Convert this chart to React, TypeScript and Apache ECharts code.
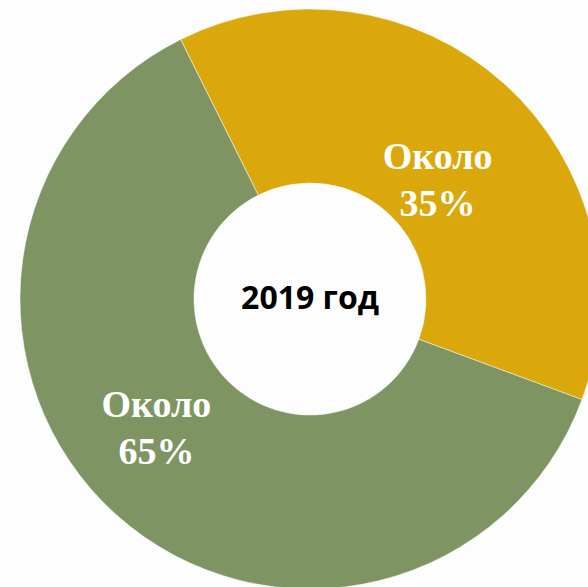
import React, { useEffect, useRef } from "react";
import * as echarts from "echarts";

const categories = ["Около\n35%", "Около\n65%"];
const values = [38, 62];
const colors = ["#DAA80B", "#7E9563"];
const labelOffsets = [
  [-10, 34],
  [-16, -25],
];
const centerTitle = "2019 год";

export default function App() {
  const ref = useRef<HTMLDivElement>(null);
  useEffect(() => {
    if (!ref.current) return;
    const chart = echarts.init(ref.current, null, { renderer: "svg" });
    chart.setOption({
      animation: false,
      backgroundColor: "#FDFDFD",
      graphic: [
        {
          type: "text",
          x: 310,
          y: 296,
          style: {
            text: centerTitle,
            fill: "#000000",
            font: "bold 32px 'Open Sans', sans-serif",
            textAlign: "center",
            textVerticalAlign: "middle",
          },
        },
      ],
      series: [
        {
          type: "pie",
          center: [310, 299],
          radius: [116, 290],
          startAngle: 116.5,
          clockwise: true,
          silent: true,
          itemStyle: { borderColor: "#FDFDFD", borderWidth: 0.5 },
          label: {
            show: true,
            position: "inside",
            formatter: (p: any) => p.name,
            color: "#FFFFFF",
            fontFamily: "'Liberation Serif', 'Times New Roman', serif",
            fontWeight: "bold",
            fontSize: 38,
            lineHeight: 47,
            align: "center",
          },
          labelLine: { show: false },
          data: categories.map((name, i) => ({
            name,
            value: values[i],
            itemStyle: { color: colors[i] },
            label: { offset: labelOffsets[i] },
          })),
        },
      ],
    });
    return () => chart.dispose();
  }, []);
  return (
    <div
      ref={ref}
      style={{ position: "fixed", left: 0, top: 0, width: 588, height: 587 }}
    />
  );
}
